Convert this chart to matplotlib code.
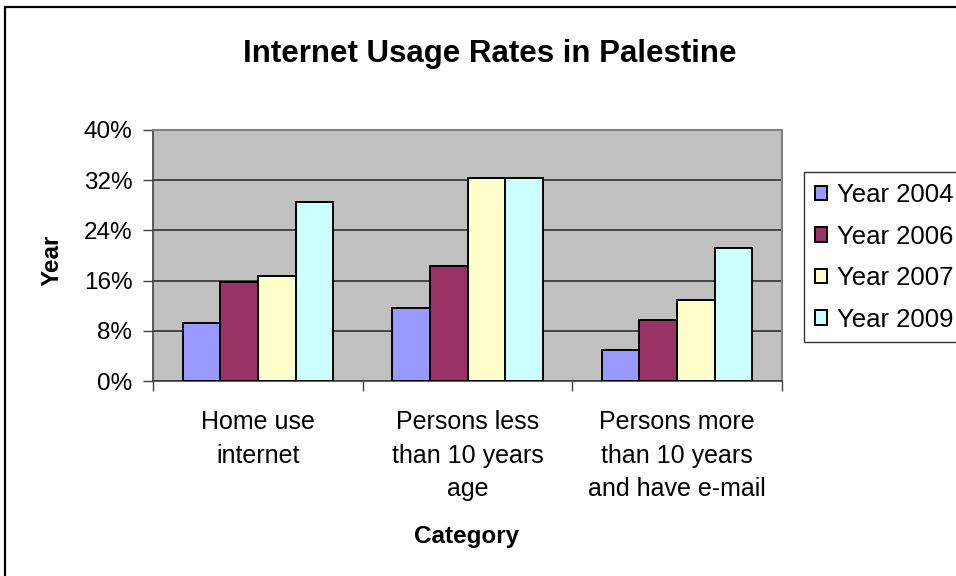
import matplotlib
matplotlib.use("Agg")
import matplotlib.pyplot as plt
import matplotlib.patches as mpatches
import numpy as np

plt.rcParams['font.family'] = ['Liberation Sans', 'DejaVu Sans']

categories = ["Home use\ninternet", "Persons less\nthan 10 years\nage", "Persons more\nthan 10 years\nand have e-mail"]
series_names = ["Year 2004", "Year 2006", "Year 2007", "Year 2009"]
year_2004 = [9.2, 11.7, 5.0]
year_2006 = [15.8, 18.4, 9.8]
year_2007 = [16.8, 32.4, 12.9]
year_2009 = [28.6, 32.4, 21.2]
yticks = [0, 8, 16, 24, 32, 40]

series = [year_2004, year_2006, year_2007, year_2009]
colors = ["#9999FF", "#993366", "#FFFFCC", "#CCFFFF"]

W, H = 956, 576
fig = plt.figure(figsize=(W / 100, H / 100), dpi=100)
fig.patch.set_facecolor("white")

ax = fig.add_axes([153.3 / W, 1 - 381 / H, (781.7 - 153.3) / W, (381 - 130) / H])
ax.set_facecolor("#C0C0C0")

x = np.arange(len(categories))
bw = 0.18
for j, (vals, name, c) in enumerate(zip(series, series_names, colors)):
    ax.bar(x + (j - 1.5) * bw, vals, width=bw, color=c, edgecolor="black",
           linewidth=1.4, label=name, zorder=3)

ax.set_xlim(-0.5, len(categories) - 0.5)
ax.set_ylim(0, 40)
ax.set_yticks(yticks)
ax.set_yticklabels([f"{v}%" for v in yticks], fontsize=17.5)
ax.yaxis.grid(True, color="#303030", linewidth=1.2, zorder=1)
ax.set_axisbelow(True)

ax.set_xticks(x)
ax.set_xticklabels(categories, fontsize=18, linespacing=1.5)
ax.tick_params(axis="x", which="major", length=0, pad=21)
ax.set_xticks(np.arange(-0.5, len(categories), 1.0), minor=True)
ax.tick_params(axis="x", which="minor", length=7, width=1, color="#404040", direction="out")
ax.tick_params(axis="y", length=7, width=1, color="#404040", direction="out", pad=8)

for s in ["left", "bottom"]:
    ax.spines[s].set_color("#404040")
    ax.spines[s].set_linewidth(1.2)
for s in ["top", "right"]:
    ax.spines[s].set_color("#808080")
    ax.spines[s].set_linewidth(1.5)

fig.text(490 / W, 1 - 54 / H, "Internet Usage Rates in Palestine", ha="center", va="center",
         fontsize=22.5, fontweight="bold")
fig.text(52 / W, 1 - 260 / H, "Year", ha="center", va="center", rotation=90,
         fontsize=17.5, fontweight="bold")
fig.text(467 / W, 1 - 536 / H, "Category", ha="center", va="center",
         fontsize=17.5, fontweight="bold")

leg = fig.legend(loc="upper left", bbox_to_anchor=(804 / W, 1 - 172.3 / H),
                 bbox_transform=fig.transFigure, fontsize=18.5, frameon=True,
                 fancybox=False, shadow=False, handlelength=0.48, handleheight=0.48,
                 handletextpad=0.4, borderpad=0.42, labelspacing=0.68, borderaxespad=0)
leg.get_frame().set_edgecolor("black")
leg.get_frame().set_linewidth(1.0)

border = mpatches.Rectangle((5 / W, -0.2), 2.0, 1 - 7 / H + 0.2, transform=fig.transFigure,
                            fill=False, edgecolor="black", linewidth=1.6)
fig.add_artist(border)

fig.savefig("out.png", dpi=100)
